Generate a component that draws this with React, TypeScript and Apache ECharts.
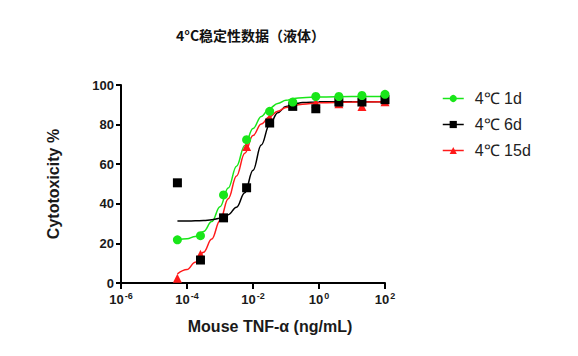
import React, { useEffect, useRef } from "react";
import * as echarts from "echarts";

// Concentrations (ng/mL), 5-fold dilution series
const concentrations = [0.0000512, 0.000256, 0.00128, 0.0064, 0.032, 0.16, 0.8, 4, 20, 100];

// Measured points (Cytotoxicity %)
const points1d = [21.8, 23.9, 44.5, 72.4, 86.7, 91.4, 94.2, 94.2, 94.7, 95.3];
const points6d = [50.6, 11.6, 32.9, 48.1, 80.8, 89.2, 88.0, 91.4, 91.4, 92.6];
const points15d = [2.4, 14.5, 33.5, 69.0, 83.3, 90.0, 90.8, 90.5, 89.2, 91.6];

// Fitted curves (x as log10 concentration)
const curveLogX = [-4.29, -4, -3.75, -3.5, -3.25, -3, -2.75, -2.5, -2.25, -2, -1.75, -1.5, -1.25, -1, -0.75, -0.5, 0, 1, 2];
const curve1d = [21.6, 22.3, 23.5, 26.0, 31.0, 38.5, 48.0, 59.0, 69.5, 78.0, 84.1, 88.2, 90.7, 92.3, 93.2, 93.6, 94.0, 94.2, 94.2];
const curve6d = [31.3, 31.3, 31.4, 31.6, 31.9, 32.7, 34.5, 38.3, 45.6, 56.9, 69.7, 79.9, 86.0, 89.1, 90.5, 91.1, 91.5, 91.6, 91.6];
const curve15d = [4.6, 6.8, 10.5, 15.5, 22.2, 31.6, 42.5, 54.0, 65.5, 74.5, 80.3, 84.0, 86.8, 88.6, 89.7, 90.3, 91.0, 91.4, 91.5];

const xTicks = [-6, -4, -2, 0, 2];
const yTicks = [0, 20, 40, 60, 80, 100];

const seriesNames = ["4℃ 1d", "4℃ 6d", "4℃ 15d"];
const colors = ["#19e619", "#000000", "#ff1a1a"];
const symbols = ["circle", "rect", "triangle"];

const titleText = "4°C稳定性数据（液体）";
const xName = "Mouse TNF-α (ng/mL)";
const yName = "Cytotoxicity %";

export default function App() {
  const ref = useRef<HTMLDivElement>(null);
  useEffect(() => {
    if (!ref.current) return;
    const chart = echarts.init(ref.current, undefined, { renderer: "svg" });
    const curves = [curve1d, curve6d, curve15d];
    const pts = [points1d, points6d, points15d];
    const lineSeries = curves.map((c, i) => ({
      name: seriesNames[i],
      type: "line",
      data: curveLogX.map((x, k) => [x, c[k]]),
      smooth: 0.4,
      smoothMonotone: "x",
      showSymbol: false,
      symbol: symbols[i],
      symbolSize: 9,
      itemStyle: { color: colors[i] },
      lineStyle: { color: colors[i], width: 1.5 },
      z: 2,
    }));
    const order = [2, 1, 0];
    const scatterSeries = order.map((i) => ({
      name: seriesNames[i],
      type: "scatter",
      data: concentrations.map((c, k) => [Math.log10(c), pts[i][k]]),
      symbol: symbols[i],
      symbolSize: 9,
      itemStyle: { color: colors[i], opacity: 1 },
      z: 3,
    }));
    const font = "'Liberation Sans', Arial, sans-serif";
    chart.setOption({
      animation: false,
      title: {
        text: titleText,
        left: 171,
        top: 23,
        textStyle: {
          fontFamily: "'Noto Sans CJK SC', sans-serif",
          fontWeight: "bold",
          fontSize: 14,
          color: "#111",
        },
      },
      legend: {
        orient: "vertical",
        left: 442,
        top: 90,
        padding: 0,
        itemWidth: 21,
        itemHeight: 9,
        itemGap: 9,
        data: seriesNames,
        lineStyle: { width: 1.5 },
        textStyle: {
          fontFamily: font,
          fontSize: 16,
          lineHeight: 17,
          color: "#222",
          padding: [0, 0, 0, 6],
        },
      },
      grid: { left: 121, right: 193, top: 85, bottom: 73, containLabel: false },
      xAxis: {
        type: "value",
        min: -6,
        max: 2,
        interval: 2,
        name: xName,
        nameLocation: "middle",
        nameGap: 35,
        nameTextStyle: {
          fontFamily: font,
          fontWeight: "bold",
          fontSize: 16,
          color: "#1a1a1a",
          padding: [0, 0, 0, 34],
        },
        splitLine: { show: false },
        axisLine: { onZero: false, lineStyle: { color: "#000", width: 2 } },
        axisTick: { length: 6, lineStyle: { color: "#000", width: 2 } },
        axisLabel: {
          margin: 8,
          formatter: (v: number) => (xTicks.includes(v) ? `10{s|${v}}` : ""),
          fontFamily: font,
          fontWeight: "bold",
          fontSize: 13,
          color: "#1a1a1a",
          rich: {
            s: {
              fontFamily: font,
              fontWeight: "bold",
              fontSize: 9,
              color: "#1a1a1a",
              padding: [0, 0, 7, 1],
            },
          },
        },
      },
      yAxis: {
        type: "value",
        min: 0,
        max: 100,
        interval: 20,
        name: yName,
        nameLocation: "middle",
        nameGap: 60,
        nameTextStyle: { fontFamily: font, fontWeight: "bold", fontSize: 16, color: "#1a1a1a" },
        splitLine: { show: false },
        axisLine: { onZero: false, lineStyle: { color: "#000", width: 2 } },
        axisTick: { length: 5, lineStyle: { color: "#000", width: 2 } },
        axisLabel: {
          margin: 7,
          formatter: (v: number) => (yTicks.includes(v) ? String(v) : ""),
          fontFamily: font,
          fontWeight: "bold",
          fontSize: 13,
          color: "#1a1a1a",
        },
      },
      series: [...lineSeries, ...scatterSeries],
    });
    return () => chart.dispose();
  }, []);
  return (
    <div
      ref={ref}
      style={{ position: "fixed", left: 0, top: 0, width: 578, height: 356, background: "#fff" }}
    />
  );
}
